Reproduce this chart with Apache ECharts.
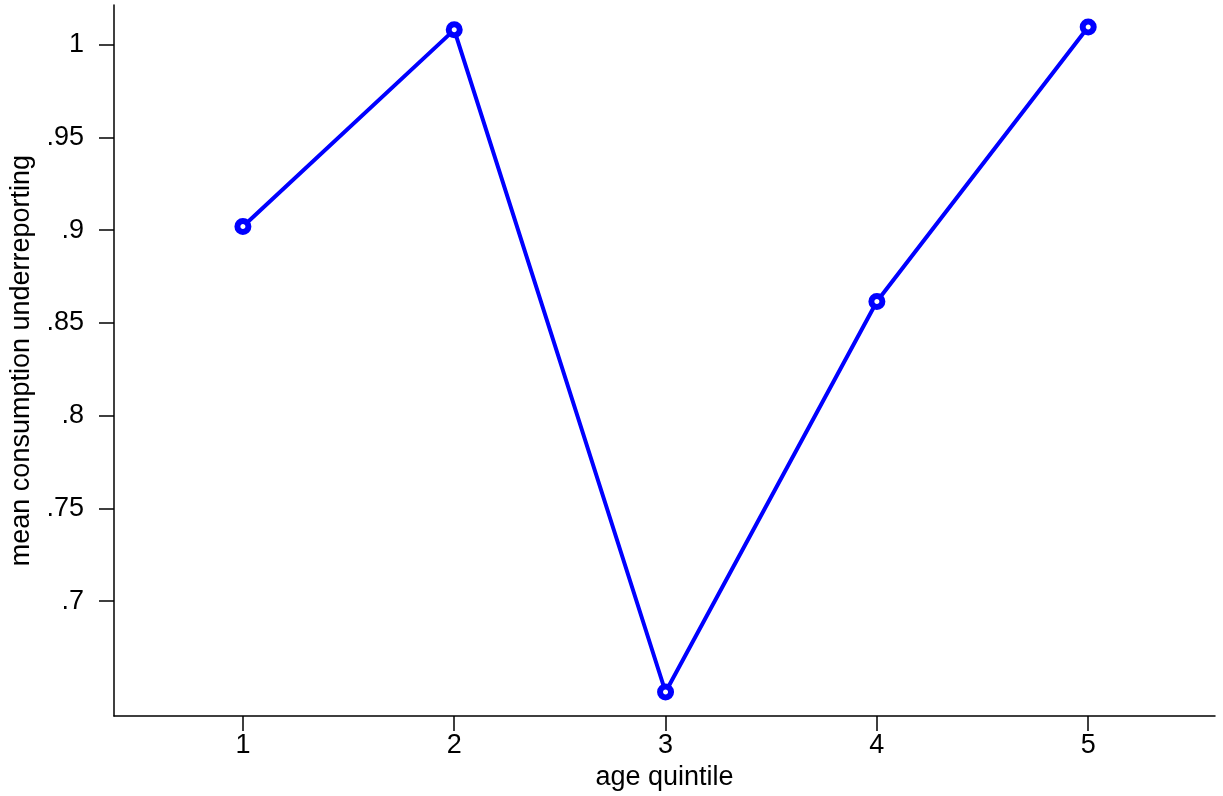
<!DOCTYPE html>
<html>
<head>
<meta charset="utf-8">
<script src="https://cdn.jsdelivr.net/npm/echarts@6/dist/echarts.min.js"></script>
<style>html,body{margin:0;padding:0;background:#fff;}#c{width:1223px;height:796px;}</style>
</head>
<body>
<div id="c"></div>
<script>
const categories = [1, 2, 3, 4, 5];
const values = [0.902, 1.008, 0.651, 0.8615, 1.0095];
const yTicks = [0.7, 0.75, 0.8, 0.85, 0.9, 0.95, 1];
const yTickLabels = ['.7', '.75', '.8', '.85', '.9', '.95', '1'];
const xTicks = [1, 2, 3, 4, 5];

const chart = echarts.init(document.getElementById('c'));
const font = "'Liberation Sans', Arial, sans-serif";
const fs = 27;
chart.setOption({
  animation: false,
  backgroundColor: '#fff',
  grid: {left: 113, right: 8, top: 5, bottom: 74, containLabel: false},
  xAxis: {
    type: 'value', min: 0.39, max: 5.6,
    name: 'age quintile', nameLocation: 'middle', nameGap: 41,
    nameTextStyle: {fontFamily: font, fontSize: fs, color: '#000'},
    axisLine: {show: true, onZero: false, lineStyle: {color: '#000', width: 1.5}},
    axisTick: {show: true, length: 15, customValues: xTicks, lineStyle: {color: '#000', width: 1.5}},
    axisLabel: {customValues: xTicks, margin: 16, fontFamily: font, fontSize: fs, color: '#000', formatter: v => String(v)},
    splitLine: {show: false}
  },
  yAxis: {
    type: 'value', min: 0.638, max: 1.0214,
    name: 'mean consumption underreporting', nameLocation: 'middle', nameGap: 79,
    nameTextStyle: {fontFamily: font, fontSize: fs, color: '#000'},
    axisLine: {show: true, onZero: false, lineStyle: {color: '#000', width: 1.5}},
    axisTick: {show: true, length: 15, customValues: yTicks, lineStyle: {color: '#000', width: 1.5}},
    axisLabel: {customValues: yTicks, margin: 30, fontFamily: font, fontSize: fs, color: '#000',
      formatter: v => { const i = yTicks.findIndex(t => Math.abs(t - v) < 1e-9); return i >= 0 ? yTickLabels[i] : ''; }},
    splitLine: {show: false}
  },
  series: [{
    type: 'line',
    data: categories.map((c, i) => [c, values[i]]),
    lineStyle: {color: '#0000ff', width: 4},
    itemStyle: {color: '#fff', borderColor: '#0000ff', borderWidth: 6},
    symbol: 'circle', symbolSize: 11,
    z: 3
  }]
});
</script>
</body>
</html>
